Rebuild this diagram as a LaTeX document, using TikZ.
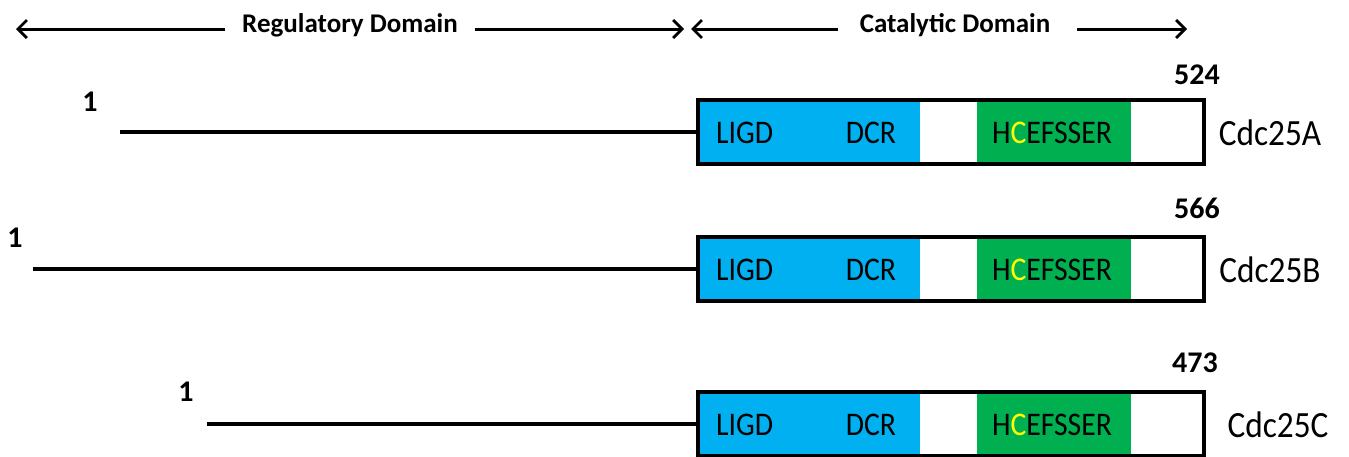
\documentclass[tikz,border=0pt]{standalone}
\usepackage{fontspec}
\setmainfont[FakeStretch=0.9]{Carlito}
\newfontfamily\labelfont{Carlito}
\usetikzlibrary{arrows.meta}
\definecolor{catblue}{HTML}{00B0F0}
\definecolor{catgreen}{HTML}{00B050}
\definecolor{cysyellow}{HTML}{FFFF00}
\tikzset{
  backbone/.style={line width=4pt},
  protein/.style={draw, line width=3.5pt, minimum width=506pt, minimum height=64pt,
                  inner sep=0pt, outer sep=0pt, anchor=north west},
  motif/.style={font=\fontsize{33}{35}\selectfont, inner sep=0pt},
  pname/.style={font=\fontsize{37}{39}\selectfont, inner sep=0pt},
  resnum/.style={font=\labelfont\bfseries\fontsize{30}{32}\selectfont, inner sep=0pt},
  domlabel/.style={font=\labelfont\bfseries\fontsize{27}{29}\selectfont, inner sep=0pt},
  span/.style={line width=3pt, -{Straight Barb[length=9pt,width=18pt,line width=2.8pt]}}
}
\begin{document}
\begin{tikzpicture}[x=1pt,y=-1pt]
\useasboundingbox (0,0) rectangle (1349,456);

% domain span labels with double-headed arrows
\node[domlabel] (reg) at (350,25) {Regulatory Domain};
\node[domlabel] (cat) at (955,25) {Catalytic Domain};
\coordinate (regLs) at (225,29);
\coordinate (regL) at (16,29);
\coordinate (regRs) at (475,29);
\coordinate (regR) at (684,29);
\coordinate (catLs) at (838,29);
\coordinate (catL) at (691,29);
\coordinate (catRs) at (1077,29);
\coordinate (catR) at (1187,29);
\draw[span] (regLs) -- (regL);
\draw[span] (regRs) -- (regR);
\draw[span] (catLs) -- (catL);
\draw[span] (catRs) -- (catR);

% one row per isoform: tag / box top / backbone start / "1" position / length / label x,y / name x / name
\foreach \r/\top/\sx/\ox/\oy/\num/\nx/\ny/\px/\name in {
    A/100/120/90/102/524/1197/75/1270/Cdc25A,
    B/237/33/15/238/566/1197/208/1270/Cdc25B,
    C/392/207/186/392/473/1195/363/1278/Cdc25C}{
  \pgfmathsetmacro{\bot}{\top+64}
  \pgfmathsetmacro{\mid}{\top+32}
  % coloured motifs
  \fill[catblue] (698,\top) rectangle (920,\bot);
  \fill[catgreen] (977,\top) rectangle (1131,\bot);
  % catalytic domain outline
  \node[protein] (box\r) at (698,\top) {};
  % regulatory N-terminal backbone
  \coordinate (start\r) at (\sx,\mid);
  \draw[backbone] (start\r) -- (box\r.west);
  \node[resnum] (one\r) at (\ox,\oy) {1};
  \node[resnum] (end\r) at (\nx,\ny) {\num};
  \node[pname] (name\r) at (\px,\mid+1) {\name};
  \node[motif, anchor=west] (ligd\r) at (716,\mid+1) {LIGD};
  \node[motif] (dcr\r) at (871,\mid+1) {DCR};
  \node[motif] (hc\r) at (1052,\mid+1) {H\textcolor{cysyellow}{C}EFSSER};
}
\end{tikzpicture}
\end{document}
